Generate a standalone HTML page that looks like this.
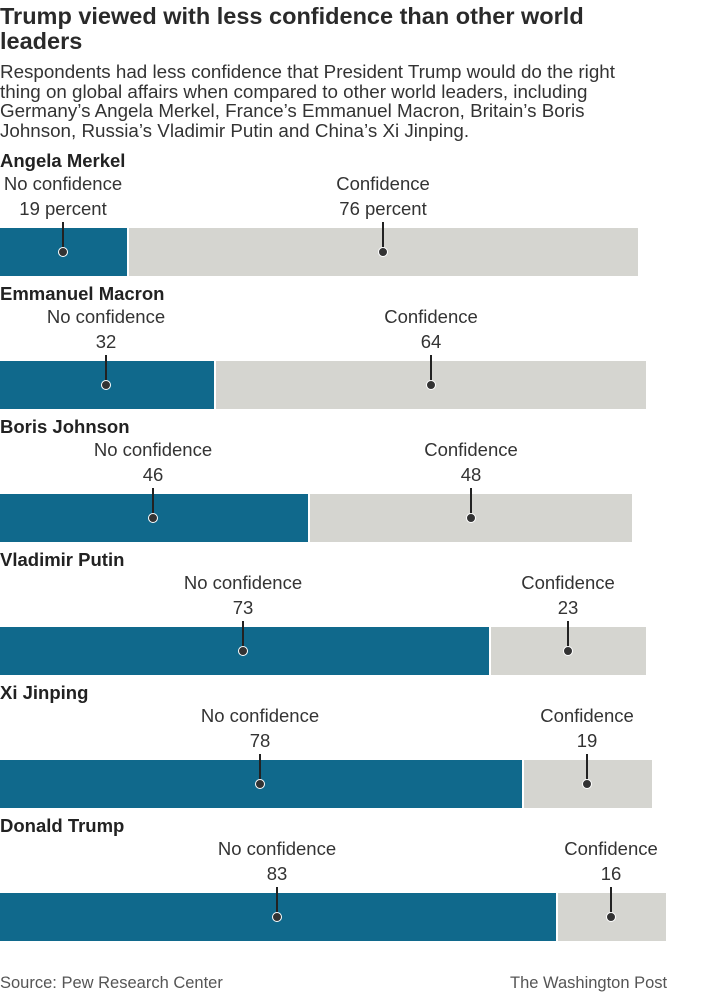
<!DOCTYPE html><html><head><style>
body{margin:0;width:713px;height:1000px;background:#fff;position:relative;font-family:"Liberation Sans",sans-serif;color:#222;overflow:hidden}
.a{position:absolute;white-space:nowrap}
.t{font-size:23.5px;font-weight:bold;left:0;line-height:25px;color:#2a2a2a;top:4px}
.s{font-size:18.8px;left:0;line-height:19.6px;color:#333;top:62px}
.n{font-size:18.5px;font-weight:bold;left:0;color:#222;line-height:22px}
.l{font-size:18.5px;transform:translateX(-50%);text-align:center;line-height:25px;color:#333}
.b{position:absolute;height:48px}
.tl{background:#10698c}.gr{background:#d5d5d0}
.v{position:absolute;width:1.5px;background:#222}
.d{position:absolute;width:8px;height:8px;border-radius:50%;background:#333;border:1.5px solid #fff;transform:translate(-50%,-50%)}
.f{font-size:16.5px;color:#555;top:974px}
</style></head><body>
<div class="a t">Trump viewed with less confidence than other world<br>leaders</div>
<div class="a s">Respondents had less confidence that President Trump would do the right<br>thing on global affairs when compared to other world leaders, including<br>Germany’s Angela Merkel, France’s Emmanuel Macron, Britain’s Boris<br>Johnson, Russia’s Vladimir Putin and China’s Xi Jinping.</div>
<div id="c"></div>
<div class="a f" style="left:0">Source: Pew Research Center</div>
<div class="a f" style="left:510px">The Washington Post</div>
<script>
var d=[["Angela Merkel",127,638,63,383,"19 percent","76 percent"],["Emmanuel Macron",214,646,106,431,"32","64"],["Boris Johnson",308,632,153,471,"46","48"],["Vladimir Putin",489,646,243,568,"73","23"],["Xi Jinping",522,652,260,587,"78","19"],["Donald Trump",556,666,277,611,"83","16"]];
var h="";d.forEach(function(r,i){var o=i*133;
h+='<div class="a n" style="top:'+(150+o)+'px">'+r[0]+'</div>';
h+='<div class="b tl" style="left:0;top:'+(228+o)+'px;width:'+r[1]+'px"></div>';
h+='<div class="b gr" style="left:'+(r[1]+2)+'px;top:'+(228+o)+'px;width:'+(r[2]-r[1]-2)+'px"></div>';
[[r[3],"No confidence",r[5]],[r[4],"Confidence",r[6]]].forEach(function(p){
h+='<div class="a l" style="left:'+p[0]+'px;top:'+(171+o)+'px">'+p[1]+'<br>'+p[2]+'</div>';
h+='<div class="v" style="left:'+(p[0]-0.75)+'px;top:'+(222+o)+'px;height:30px"></div>';
h+='<div class="d" style="left:'+p[0]+'px;top:'+(252+o)+'px"></div>';});});
document.getElementById("c").innerHTML=h;
</script></body></html>
